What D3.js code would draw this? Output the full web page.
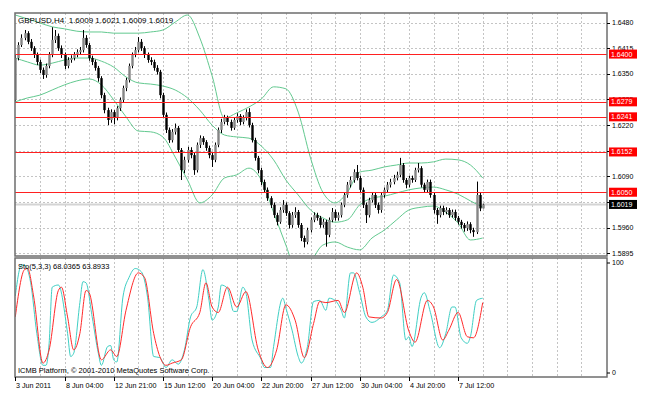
<!DOCTYPE html>
<html>
<head>
<meta charset="utf-8">
<script src="https://cdn.jsdelivr.net/npm/d3@7"></script>
<style>
    body { margin: 0; background: #fff; }
    svg { display: block; font-family: "Liberation Sans", Arial, sans-serif; }
</style>
</head>
<body>
<svg id="chart" width="648" height="398"></svg>
<script>
// ---- data ----
const symbolTitle = 'GBPUSD,H4  1.6009 1.6021 1.6009 1.6019';
const stochTitle = 'Sto(5,3,3) 68.0365 63.8933';
const copyright = 'ICMB Platform, \u00a9 2001-2010 MetaQuotes Software Corp.';

const opens = [1.6284,1.6390,1.6423,1.6441,1.6453,1.6431,1.6415,1.6398,1.6380,1.6360,
    1.6347,1.6370,1.6398,1.6436,1.6446,1.6415,1.6398,1.6370,1.6385,1.6390,
    1.6398,1.6405,1.6410,1.6441,1.6423,1.6390,1.6380,1.6365,1.6339,1.6296,
    1.6258,1.6233,1.6253,1.6238,1.6263,1.6284,1.6314,1.6334,1.6370,1.6398,
    1.6410,1.6431,1.6415,1.6398,1.6385,1.6380,1.6365,1.6355,1.6296,1.6246,
    1.6208,1.6182,1.6203,1.6213,1.6157,1.6106,1.6132,1.6157,1.6144,1.6106,
    1.6170,1.6187,1.6177,1.6162,1.6144,1.6132,1.6170,1.6208,1.6228,1.6238,
    1.6228,1.6213,1.6233,1.6243,1.6228,1.6238,1.6253,1.6220,1.6182,1.6137,
    1.6106,1.6076,1.6056,1.6035,1.6018,1.5992,1.5975,1.6005,1.6018,1.5997,
    1.5967,1.5992,1.6000,1.5967,1.5934,1.5924,1.5954,1.5980,1.5992,1.5985,
    1.5967,1.5975,1.5942,1.5980,1.6000,1.5985,1.5992,1.6018,1.6043,1.6069,
    1.6081,1.6101,1.6086,1.6056,1.6018,1.5992,1.6030,1.6043,1.6018,1.6005,
    1.6043,1.6056,1.6069,1.6076,1.6086,1.6094,1.6119,1.6081,1.6069,1.6086,
    1.6081,1.6106,1.6111,1.6069,1.6056,1.6076,1.6043,1.6005,1.5992,1.6010,
    1.6000,1.6005,1.5992,1.6000,1.5985,1.5975,1.5967,1.5959,1.5969,1.5954,
    1.5949,1.6043,1.6009];
const highs = [1.6398,1.6430,1.6450,1.6461,1.6458,1.6438,1.6420,1.6404,1.6386,1.6366,
    1.6376,1.6405,1.6468,1.6461,1.6452,1.6422,1.6404,1.6392,1.6397,1.6405,
    1.6412,1.6418,1.6461,1.6448,1.6428,1.6396,1.6386,1.6370,1.6344,1.6302,
    1.6264,1.6260,1.6258,1.6268,1.6290,1.6320,1.6340,1.6376,1.6404,1.6418,
    1.6443,1.6438,1.6420,1.6404,1.6392,1.6386,1.6372,1.6360,1.6302,1.6252,
    1.6214,1.6210,1.6224,1.6218,1.6162,1.6140,1.6165,1.6164,1.6150,1.6176,
    1.6194,1.6192,1.6182,1.6168,1.6150,1.6176,1.6214,1.6236,1.6246,1.6244,
    1.6234,1.6240,1.6250,1.6248,1.6245,1.6260,1.6263,1.6226,1.6188,1.6142,
    1.6112,1.6082,1.6062,1.6040,1.6024,1.5998,1.6012,1.6030,1.6024,1.6002,
    1.6000,1.6012,1.6005,1.5972,1.5940,1.5960,1.5986,1.5999,1.5998,1.5990,
    1.5982,1.5980,1.5986,1.6010,1.6006,1.5999,1.6024,1.6050,1.6076,1.6090,
    1.6108,1.6119,1.6092,1.6062,1.6024,1.6036,1.6050,1.6048,1.6024,1.6050,
    1.6062,1.6076,1.6084,1.6094,1.6102,1.6137,1.6124,1.6086,1.6092,1.6092,
    1.6112,1.6124,1.6116,1.6074,1.6082,1.6082,1.6048,1.6010,1.6016,1.6016,
    1.6012,1.6010,1.6006,1.6006,1.5990,1.5980,1.5972,1.5976,1.5974,1.5960,
    1.6077,1.6050,1.6021];
const lows = [1.6280,1.6384,1.6418,1.6435,1.6425,1.6408,1.6390,1.6372,1.6352,1.6337,
    1.6340,1.6364,1.6392,1.6428,1.6408,1.6390,1.6362,1.6364,1.6378,1.6384,
    1.6392,1.6398,1.6404,1.6416,1.6383,1.6372,1.6358,1.6330,1.6288,1.6250,
    1.6220,1.6226,1.6222,1.6232,1.6256,1.6278,1.6306,1.6328,1.6364,1.6392,
    1.6404,1.6408,1.6390,1.6378,1.6372,1.6358,1.6348,1.6288,1.6238,1.6200,
    1.6175,1.6176,1.6196,1.6150,1.6081,1.6098,1.6125,1.6136,1.6094,1.6100,
    1.6162,1.6170,1.6155,1.6136,1.6114,1.6126,1.6164,1.6200,1.6222,1.6220,
    1.6206,1.6208,1.6226,1.6220,1.6222,1.6232,1.6214,1.6176,1.6130,1.6098,
    1.6068,1.6048,1.6028,1.6010,1.5985,1.5966,1.5970,1.5998,1.5990,1.5958,
    1.5960,1.5985,1.5960,1.5926,1.5910,1.5918,1.5948,1.5974,1.5978,1.5960,
    1.5960,1.5912,1.5936,1.5974,1.5978,1.5978,1.5986,1.6012,1.6036,1.6062,
    1.6074,1.6080,1.6048,1.6010,1.5972,1.5986,1.6024,1.6010,1.5996,1.5998,
    1.6036,1.6050,1.6062,1.6070,1.6080,1.6088,1.6074,1.6060,1.6062,1.6074,
    1.6076,1.6100,1.6062,1.6048,1.6050,1.6036,1.5996,1.5970,1.5986,1.5992,
    1.5994,1.5985,1.5986,1.5978,1.5968,1.5958,1.5950,1.5952,1.5946,1.5937,
    1.5944,1.6002,1.6009];
const closes = [1.6390,1.6423,1.6441,1.6453,1.6431,1.6415,1.6398,1.6380,1.6360,1.6347,
    1.6370,1.6398,1.6436,1.6446,1.6415,1.6398,1.6370,1.6385,1.6390,1.6398,
    1.6405,1.6410,1.6441,1.6423,1.6390,1.6380,1.6365,1.6339,1.6296,1.6258,
    1.6233,1.6253,1.6238,1.6263,1.6284,1.6314,1.6334,1.6370,1.6398,1.6410,
    1.6431,1.6415,1.6398,1.6385,1.6380,1.6365,1.6355,1.6296,1.6246,1.6208,
    1.6182,1.6203,1.6213,1.6157,1.6106,1.6132,1.6157,1.6144,1.6106,1.6170,
    1.6187,1.6177,1.6162,1.6144,1.6132,1.6170,1.6208,1.6228,1.6238,1.6228,
    1.6213,1.6233,1.6243,1.6228,1.6238,1.6253,1.6220,1.6182,1.6137,1.6106,
    1.6076,1.6056,1.6035,1.6018,1.5992,1.5975,1.6005,1.6018,1.5997,1.5967,
    1.5992,1.6000,1.5967,1.5934,1.5924,1.5954,1.5980,1.5992,1.5985,1.5967,
    1.5975,1.5942,1.5980,1.6000,1.5985,1.5992,1.6018,1.6043,1.6069,1.6081,
    1.6101,1.6086,1.6056,1.6018,1.5992,1.6030,1.6043,1.6018,1.6005,1.6043,
    1.6056,1.6069,1.6076,1.6086,1.6094,1.6119,1.6081,1.6069,1.6086,1.6081,
    1.6106,1.6111,1.6069,1.6056,1.6076,1.6043,1.6005,1.5992,1.6010,1.6000,
    1.6005,1.5992,1.6000,1.5985,1.5975,1.5967,1.5959,1.5969,1.5954,1.5949,
    1.6043,1.6009,1.6019];

// Bollinger bands, read every 4th bar
const bandIdx = d3.range(0, 153, 4);
const bandUpper = [1.6499,1.6489,1.6479,1.6469,1.6464,1.6458,1.6456,1.6456,1.6453,1.6453,
    1.6453,1.6456,1.6461,1.6481,1.6499,1.6441,1.6345,1.6238,1.6251,1.6266,
    1.6286,1.6317,1.6312,1.6253,1.6137,1.6050,1.6023,1.6050,1.6101,1.6106,
    1.6114,1.6119,1.6124,1.6124,1.6127,1.6134,1.6132,1.6119,1.6086];
const bandMiddle = [1.6390,1.6380,1.6372,1.6377,1.6385,1.6390,1.6390,1.6382,1.6367,1.6342,
    1.6327,1.6324,1.6319,1.6309,1.6289,1.6258,1.6220,1.6195,1.6190,1.6187,
    1.6167,1.6132,1.6081,1.6043,1.6005,1.5985,1.5974,1.5980,1.6018,1.6035,
    1.6040,1.6048,1.6056,1.6061,1.6063,1.6056,1.6045,1.6028,1.6012];
const bandLower = [1.6279,1.6289,1.6296,1.6309,1.6322,1.6332,1.6337,1.6322,1.6284,1.6241,
    1.6205,1.6203,1.6190,1.6139,1.6081,1.6023,1.6043,1.6086,1.6094,1.6111,
    1.6081,1.5999,1.5916,1.5840,1.5873,1.5916,1.5924,1.5911,1.5904,1.5934,
    1.5954,1.5980,1.6005,1.6012,1.6015,1.5999,1.5972,1.5929,1.5934];

// stochastic main (%K) and signal (%D), [bar, value]
const stochK = [[0,70],[2,98],[3,98],[5,82],[7,36],[9,7],[10,7],[11,27],[12,78],[14,80],
    [17,36],[18,15],[19,18],[21,64],[22,83],[23,82],[25,51],[27,18],[28,7],[30,24],
    [31,25],[32,12],[33,10],[35,69],[37,87],[39,95],[41,92],[43,69],[45,15],[47,14],
    [49,5],[51,12],[53,8],[55,21],[57,51],[59,60],[61,94],[63,66],[64,48],[66,60],
    [67,80],[69,77],[71,56],[72,56],[74,78],[75,73],[77,30],[80,12],[81,5],[83,5],
    [84,24],[87,68],[88,59],[90,39],[92,15],[93,9],[95,24],[97,65],[99,66],[101,57],
    [102,68],[104,66],[106,57],[107,50],[109,91],[110,91],[112,73],[114,51],[116,46],[119,51],
    [121,57],[123,89],[125,82],[127,30],[128,33],[129,24],[132,69],[133,73],[135,55],[138,23],
    [140,36],[142,60],[143,60],[145,32],[147,27],[148,33],[150,66],[152,68]];
const stochD = [[0,51],[3,94],[4,95],[6,69],[9,9],[11,21],[14,75],[15,78],[17,51],[19,21],
    [21,36],[23,75],[24,73],[28,12],[31,21],[33,15],[36,57],[40,91],[42,87],[45,36],
    [47,15],[49,7],[51,9],[54,12],[57,42],[60,55],[62,82],[64,60],[66,55],[69,78],
    [72,60],[75,74],[79,21],[82,5],[85,21],[88,62],[91,48],[94,14],[97,45],[99,65],
    [101,64],[105,66],[107,55],[111,91],[113,78],[115,51],[119,50],[121,55],[124,85],[128,38],
    [130,28],[134,66],[136,60],[139,30],[141,39],[144,55],[147,33],[149,32],[152,64]];

const levelLines = [1.6400, 1.6279, 1.6241, 1.6152, 1.6050];
const currentPrice = 1.6019;
const priceTicks = [1.6480, 1.6415, 1.6350, 1.6285, 1.6220, 1.6155, 1.6090, 1.6025, 1.5960, 1.5895];
const timeTickIdx = [0, 16, 32, 48, 64, 80, 96, 112, 128, 144];
const timeLabels = ['3 Jun 2011', '8 Jun 04:00', '12 Jun 21:00', '15 Jun 12:00', '20 Jun 04:00',
    '22 Jun 20:00', '27 Jun 12:00', '30 Jun 04:00', '4 Jul 20:00', '7 Jul 12:00'];

// ---- layout ----
const left = 15, right = 607;
const main = {top: 13, bottom: 256};
const sub = {top: 258, bottom: 377};
const barStep = 3.075;

const x = d3.scaleLinear().domain([0, 192]).range([15.3, 15.3 + 192 * barStep]);
const y = d3.scaleLinear().domain([1.5895, 1.6480]).range([253.4, 22.5]);
const ys = d3.scaleLinear().domain([0, 100]).range([373, 263]);

const colorBand = '#62c98f';
const colorK = '#3fcfc4';
const colorD = '#ff2a2a';
const colorGrid = '#c4c4c4';
const colorFrame = '#6e6e6e';

const svg = d3.select('#chart');
svg.append('rect').attr('width', 648).attr('height', 398).attr('fill', '#fff');

const defs = svg.append('defs');
defs.append('clipPath').attr('id', 'clip-main')
    .append('rect').attr('x', left).attr('y', main.top)
    .attr('width', right - left).attr('height', main.bottom - main.top);
defs.append('clipPath').attr('id', 'clip-sub')
    .append('rect').attr('x', left).attr('y', sub.top)
    .attr('width', right - left).attr('height', sub.bottom - sub.top);

//grid
const gridIdx = d3.range(8, 185, 8);
const grid = svg.append('g').attr('stroke', colorGrid).attr('stroke-dasharray', '2,2');
grid.selectAll('.vg').data(gridIdx).enter().append('line')
    .attr('x1', d => Math.round(x(d)) + 0.5).attr('x2', d => Math.round(x(d)) + 0.5)
    .attr('y1', main.top).attr('y2', main.bottom);
grid.selectAll('.vs').data(gridIdx).enter().append('line')
    .attr('x1', d => Math.round(x(d)) + 0.5).attr('x2', d => Math.round(x(d)) + 0.5)
    .attr('y1', sub.top).attr('y2', sub.bottom);
grid.selectAll('.hg').data(priceTicks).enter().append('line')
    .attr('x1', left).attr('x2', right)
    .attr('y1', d => Math.round(y(d)) + 0.5).attr('y2', d => Math.round(y(d)) + 0.5);

const plot = svg.append('g').attr('clip-path', 'url(#clip-main)');

//current price line
plot.append('line')
    .attr('x1', left).attr('x2', right)
    .attr('y1', y(currentPrice)).attr('y2', y(currentPrice))
    .attr('stroke', '#d4d4d4').attr('stroke-width', 2);

//bollinger bands
const bandLine = vals => d3.line()
    .x((d, i) => x(bandIdx[i]))
    .y(d => y(d))
    .curve(d3.curveMonotoneX)(vals);
[bandUpper, bandMiddle, bandLower].forEach(vals => {
    plot.append('path')
        .attr('d', bandLine(vals))
        .attr('fill', 'none')
        .attr('stroke', colorBand)
        .attr('stroke-width', 1);
});

//candles
const bars = d3.range(closes.length);
const candles = plot.append('g').attr('class', 'candles');
candles.selectAll('.wick').data(bars).enter().append('line')
    .attr('x1', i => Math.round(x(i)) + 0.5).attr('x2', i => Math.round(x(i)) + 0.5)
    .attr('y1', i => y(highs[i])).attr('y2', i => y(lows[i]))
    .attr('stroke', '#000').attr('stroke-width', 1);
candles.selectAll('.body').data(bars).enter().append('rect')
    .attr('x', i => Math.round(x(i)) - 0.7)
    .attr('width', 2.4)
    .attr('y', i => y(Math.max(opens[i], closes[i])))
    .attr('height', i => Math.max(1, Math.abs(y(opens[i]) - y(closes[i]))))
    .attr('fill', i => closes[i] >= opens[i] ? '#858585' : '#000');

//horizontal levels
plot.selectAll('.level').data(levelLines).enter().append('line')
    .attr('x1', left).attr('x2', right)
    .attr('y1', d => Math.round(y(d)) + 0.5).attr('y2', d => Math.round(y(d)) + 0.5)
    .attr('stroke', '#ff2020').attr('stroke-width', 1.2);

svg.append('text').attr('x', 18).attr('y', 23)
    .attr('font-size', 8).attr('fill', '#000')
    .attr('xml:space', 'preserve')
    .text(symbolTitle);

//stochastic window
const subPlot = svg.append('g').attr('clip-path', 'url(#clip-sub)');
const stochLine = d3.line()
    .x(d => x(d[0]))
    .y(d => ys(d[1]))
    .curve(d3.curveMonotoneX);
subPlot.append('path').attr('d', stochLine(stochK))
    .attr('fill', 'none').attr('stroke', colorK).attr('stroke-width', 1);
subPlot.append('path').attr('d', stochLine(stochD))
    .attr('fill', 'none').attr('stroke', colorD).attr('stroke-width', 1);

svg.append('text').attr('x', 18).attr('y', 269)
    .attr('font-size', 7.5).text(stochTitle);
svg.append('text').attr('x', 18).attr('y', 373)
    .attr('font-size', 7.5).text(copyright);

//frames
[main, sub].forEach(p => {
    svg.append('rect')
        .attr('x', left).attr('y', p.top)
        .attr('width', right - left).attr('height', p.bottom - p.top)
        .attr('fill', 'none').attr('stroke', colorFrame).attr('stroke-width', 1.5);
});

//price axis
const axisR = svg.append('g').attr('font-size', 7);
axisR.selectAll('.tk').data(priceTicks).enter().append('line')
    .attr('x1', right).attr('x2', right + 3)
    .attr('y1', d => Math.round(y(d)) + 0.5).attr('y2', d => Math.round(y(d)) + 0.5)
    .attr('stroke', '#000');
axisR.selectAll('.tl').data(priceTicks).enter().append('text')
    .attr('x', 612).attr('y', d => y(d)).attr('dy', '0.35em')
    .text(d => d.toFixed(4));

//level tags, drawn over the tick labels like the terminal does
const tags = levelLines.map(v => ({v: v, fill: '#ff0000'}))
    .concat([{v: currentPrice, fill: '#000'}]);
const tag = axisR.selectAll('.tag').data(tags).enter().append('g');
tag.append('rect')
    .attr('x', 609).attr('y', d => y(d.v) - 4.5)
    .attr('width', 28).attr('height', 9)
    .attr('fill', d => d.fill);
tag.append('text')
    .attr('x', 611).attr('y', d => y(d.v)).attr('dy', '0.35em')
    .attr('fill', '#fff')
    .text(d => d.v.toFixed(4));

//stochastic scale
const stochTicks = [100, 0];
axisR.selectAll('.st').data(stochTicks).enter().append('line')
    .attr('x1', right).attr('x2', right + 3)
    .attr('y1', d => ys(d)).attr('y2', d => ys(d))
    .attr('stroke', '#000');
axisR.selectAll('.sl').data(stochTicks).enter().append('text')
    .attr('x', 612).attr('y', d => ys(d)).attr('dy', '0.35em')
    .text(d => d);

//time axis
const axisB = svg.append('g').attr('font-size', 7.2);
axisB.selectAll('.tt').data(timeTickIdx).enter().append('line')
    .attr('x1', d => Math.round(x(d)) + 0.5).attr('x2', d => Math.round(x(d)) + 0.5)
    .attr('y1', sub.bottom).attr('y2', sub.bottom + 4)
    .attr('stroke', '#000');
axisB.selectAll('.tx').data(timeTickIdx).enter().append('text')
    .attr('x', d => Math.round(x(d)) + 1).attr('y', 388)
    .text((d, i) => timeLabels[i]);
</script>
</body>
</html>
